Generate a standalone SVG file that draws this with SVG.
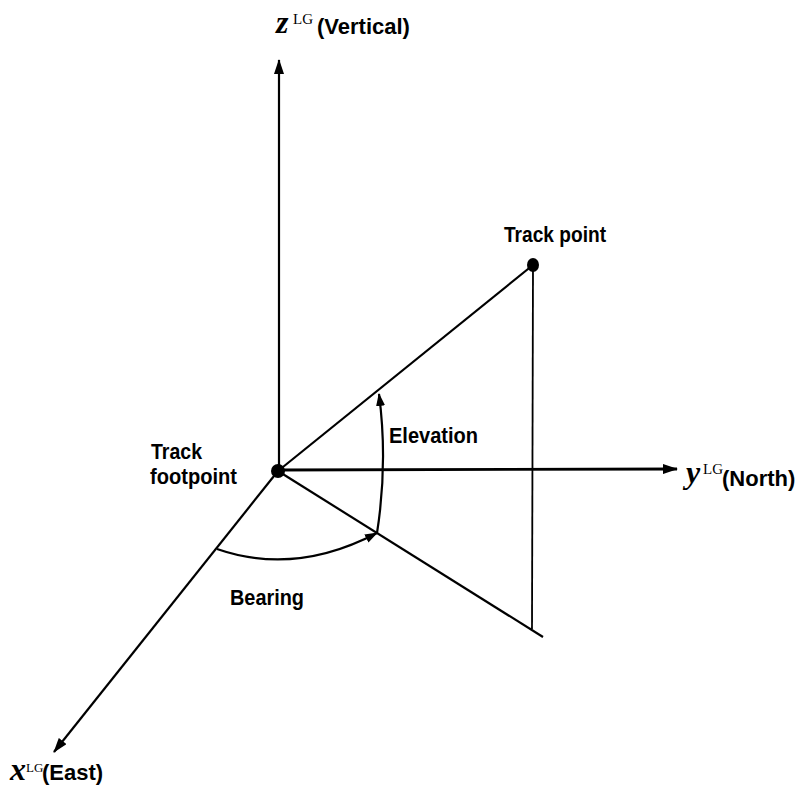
<svg xmlns="http://www.w3.org/2000/svg" width="799" height="787" viewBox="0 0 799 787">
  <style>
    .ln { stroke: #000; stroke-width: 2.2; fill: none; }
    .thick { stroke: #000; stroke-width: 2.8; fill: none; }
    .thin { stroke: #000; stroke-width: 1.8; fill: none; }
    .lbl { font-family: "Liberation Sans", Arial, sans-serif; font-weight: bold; font-size: 22px; fill: #000; }
    .ax { font-family: "Liberation Serif", "Times New Roman", serif; font-style: italic; font-weight: bold; font-size: 32px; }
    .sup { font-family: "Liberation Serif", "Times New Roman", serif; font-style: normal; font-weight: normal; font-size: 15px; }
  </style>
  <defs>
    <marker id="arrow" markerWidth="15" markerHeight="10" refX="14" refY="5" orient="auto" markerUnits="userSpaceOnUse">
      <path d="M0,0 L15,5 L0,10 z" fill="#000"/>
    </marker>
    <marker id="arrowS" markerWidth="13" markerHeight="9" refX="12" refY="4.5" orient="auto" markerUnits="userSpaceOnUse">
      <path d="M0,0 L13,4.5 L0,9 z" fill="#000"/>
    </marker>
  </defs>
  <rect width="799" height="787" fill="#fff"/>

  <g id="connectors">
    <line class="ln" x1="279" y1="471" x2="279" y2="60" marker-end="url(#arrow)"/>
    <line class="thick" x1="278" y1="470" x2="677" y2="469" marker-end="url(#arrow)"/>
    <line class="ln" x1="278" y1="471" x2="54" y2="752" marker-end="url(#arrow)"/>
    <line class="ln" x1="278" y1="471" x2="533" y2="265"/>
    <line class="thin" x1="533" y1="265" x2="532" y2="629"/>
    <line class="ln" x1="278" y1="471" x2="543" y2="637"/>
    <path class="ln" d="M377,533 Q388,463 379,394" marker-end="url(#arrowS)"/>
    <path class="ln" d="M217,549 Q295,576 377,533" marker-end="url(#arrowS)"/>
  </g>

  <g id="footpoint">
    <circle cx="278" cy="471" r="7" fill="#000"/>
    <text class="lbl" x="151" y="459" textLength="51" lengthAdjust="spacingAndGlyphs">Track</text>
    <text class="lbl" x="150" y="484" textLength="87" lengthAdjust="spacingAndGlyphs">footpoint</text>
  </g>

  <g id="trackpoint">
    <ellipse cx="533" cy="265" rx="6" ry="7" fill="#000"/>
    <text class="lbl" x="504" y="242" textLength="102" lengthAdjust="spacingAndGlyphs">Track point</text>
  </g>

  <g id="elevation">
    <text class="lbl" x="389" y="443" textLength="89" lengthAdjust="spacingAndGlyphs">Elevation</text>
  </g>

  <g id="bearing">
    <text class="lbl" x="230" y="605" textLength="74" lengthAdjust="spacingAndGlyphs">Bearing</text>
  </g>

  <g id="z-label">
    <text class="lbl"><tspan class="ax" x="276" y="33">z</tspan><tspan class="sup" x="293" y="24">LG</tspan><tspan x="317" y="34">(Vertical)</tspan></text>
  </g>

  <g id="y-label">
    <text class="lbl"><tspan class="ax" x="686" y="483">y</tspan><tspan class="sup" x="703" y="474">LG</tspan><tspan x="722" y="486">(North)</tspan></text>
  </g>

  <g id="x-label">
    <text class="lbl"><tspan class="ax" x="10" y="780">x</tspan><tspan class="sup" x="26" y="772" style="font-size:13px">LG</tspan><tspan x="42" y="780">(East)</tspan></text>
  </g>
</svg>
